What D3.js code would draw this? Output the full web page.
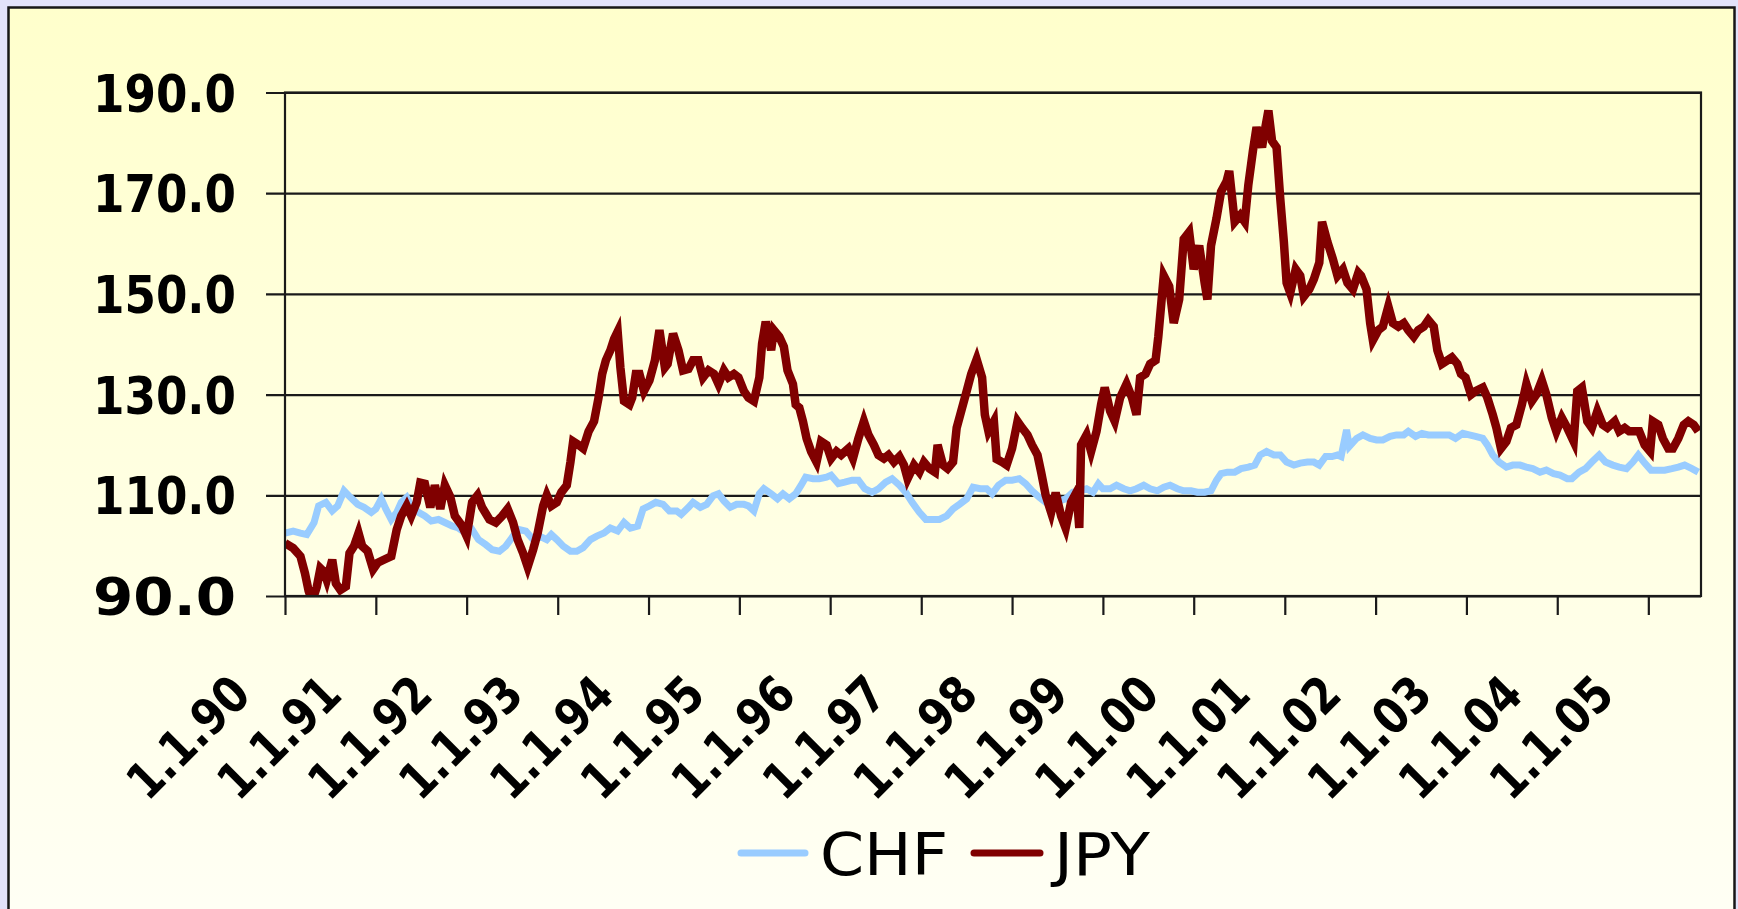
<!DOCTYPE html>
<html><head><meta charset="utf-8">
<script src="https://cdn.jsdelivr.net/npm/d3@7"></script>
<style>html,body{margin:0;padding:0;background:#e2e2fa;overflow:hidden}</style>
</head><body>
<svg id="chart" width="1738" height="909"></svg>
<script>
// ---- data (decimal year, index value) ----
const yTickValues = [90, 110, 130, 150, 170, 190];
const xTickYears = [1990,1991,1992,1993,1994,1995,1996,1997,1998,1999,2000,2001,2002,2003,2004,2005];
const xTickLabels = ["1.1.90","1.1.91","1.1.92","1.1.93","1.1.94","1.1.95","1.1.96","1.1.97","1.1.98","1.1.99","1.1.00","1.1.01","1.1.02","1.1.03","1.1.04","1.1.05"];
const seriesNames = ["CHF", "JPY"];

const chf = [
[1990.00,102.5],[1990.09,102.9],[1990.17,102.5],[1990.24,102.2],[1990.32,104.6],[1990.37,107.9],[1990.45,108.6],[1990.52,106.9],[1990.58,107.9],[1990.65,110.9],[1990.72,109.6],[1990.80,108.2],[1990.87,107.6],[1990.95,106.6],
[1991.00,107.3],[1991.06,109.3],[1991.11,107.3],[1991.17,105.2],[1991.23,106.6],[1991.28,108.6],[1991.34,109.6],[1991.39,107.9],[1991.47,106.6],[1991.54,105.9],[1991.61,104.9],[1991.69,105.2],[1991.76,104.6],[1991.84,103.9],[1991.91,103.5],[1991.99,102.5],
[1992.06,103.2],[1992.13,101.2],[1992.21,100.2],[1992.28,99.2],[1992.36,98.9],[1992.43,99.9],[1992.51,101.9],[1992.58,103.2],[1992.65,102.9],[1992.73,101.2],[1992.80,101.9],[1992.88,101.2],[1992.93,102.2],[1992.99,101.2],
[1993.06,99.9],[1993.14,98.9],[1993.21,98.9],[1993.28,99.6],[1993.36,101.2],[1993.43,101.9],[1993.51,102.5],[1993.58,103.5],[1993.66,102.9],[1993.73,104.6],[1993.80,103.5],[1993.88,103.9],[1993.94,107.3],
[1994.01,107.9],[1994.08,108.6],[1994.16,108.2],[1994.23,106.9],[1994.31,106.9],[1994.36,106.2],[1994.44,107.6],[1994.49,108.6],[1994.57,107.6],[1994.64,108.2],[1994.71,109.9],[1994.77,110.3],[1994.83,108.9],[1994.90,107.6],[1994.97,108.2],
[1995.05,108.2],[1995.10,107.9],[1995.16,106.9],[1995.22,110.3],[1995.27,111.3],[1995.35,110.3],[1995.42,109.3],[1995.48,110.3],[1995.55,109.3],[1995.62,110.3],[1995.68,112.0],[1995.73,113.6],[1995.81,113.3],[1995.88,113.3],[1995.96,113.6],
[1996.01,114.0],[1996.09,112.3],[1996.16,112.6],[1996.24,113.0],[1996.31,113.0],[1996.38,111.3],[1996.46,110.6],[1996.53,111.3],[1996.61,112.6],[1996.68,113.3],[1996.76,112.0],[1996.83,110.6],[1996.90,108.6],[1996.98,106.6],
[1997.05,105.2],[1997.13,105.2],[1997.20,105.2],[1997.28,105.9],[1997.35,107.3],[1997.42,108.2],[1997.50,109.3],[1997.57,111.6],[1997.65,111.3],[1997.72,111.3],[1997.78,110.3],[1997.85,112.0],[1997.93,113.0],
[1998.00,113.0],[1998.08,113.3],[1998.15,112.3],[1998.22,110.9],[1998.30,109.6],[1998.37,108.6],[1998.45,108.6],[1998.52,108.9],[1998.59,109.3],[1998.67,110.6],[1998.74,110.9],[1998.82,111.3],[1998.89,110.6],[1998.95,112.3],
[1999.00,111.3],[1999.08,111.3],[1999.15,112.0],[1999.23,111.3],[1999.30,110.9],[1999.37,111.3],[1999.45,112.0],[1999.52,111.3],[1999.60,110.9],[1999.67,111.6],[1999.74,112.0],[1999.82,111.3],[1999.89,110.9],[1999.97,110.9],
[2000.04,110.6],[2000.12,110.6],[2000.19,110.9],[2000.25,113.0],[2000.30,114.3],[2000.37,114.6],[2000.45,114.6],[2000.52,115.3],[2000.60,115.6],[2000.67,116.0],[2000.73,118.0],[2000.80,118.7],[2000.88,118.0],[2000.95,118.0],
[2001.02,116.6],[2001.10,116.0],[2001.17,116.4],[2001.25,116.6],[2001.32,116.6],[2001.38,116.0],[2001.45,117.7],[2001.52,117.7],[2001.58,118.0],[2001.62,117.7],[2001.68,123.0],[2001.71,119.7],[2001.79,121.3],[2001.86,122.0],[2001.94,121.3],
[2002.01,121.0],[2002.08,121.0],[2002.16,121.7],[2002.23,122.0],[2002.31,122.0],[2002.36,122.7],[2002.44,121.7],[2002.51,122.3],[2002.58,122.0],[2002.66,122.0],[2002.73,122.0],[2002.81,122.0],[2002.88,121.3],[2002.96,122.3],
[2003.03,122.0],[2003.10,121.7],[2003.18,121.3],[2003.23,120.0],[2003.29,118.0],[2003.36,116.6],[2003.44,115.6],[2003.51,116.0],[2003.59,116.0],[2003.66,115.6],[2003.73,115.3],[2003.81,114.6],[2003.88,115.0],[2003.96,114.3],
[2004.03,114.0],[2004.11,113.3],[2004.16,113.3],[2004.24,114.6],[2004.31,115.3],[2004.38,116.6],[2004.46,118.0],[2004.53,116.6],[2004.61,116.0],[2004.68,115.6],[2004.76,115.3],[2004.83,116.6],[2004.89,118.0],[2004.96,116.4],
[2005.03,115.0],[2005.11,115.0],[2005.18,115.0],[2005.26,115.3],[2005.33,115.6],[2005.40,116.0],[2005.48,115.3],[2005.55,114.6]
];

const jpy = [
[1990.00,100.5],[1990.09,99.5],[1990.17,97.9],[1990.22,94.5],[1990.26,91.0],[1990.30,89.0],[1990.35,91.8],[1990.39,95.5],[1990.43,94.8],[1990.46,93.2],[1990.52,97.2],[1990.56,92.5],[1990.61,91.2],[1990.67,91.9],[1990.71,98.5],[1990.76,99.9],[1990.81,102.5],[1990.85,99.9],[1990.91,98.9],[1990.97,95.3],
[1991.02,96.6],[1991.10,97.3],[1991.17,97.9],[1991.23,103.2],[1991.28,105.9],[1991.34,107.9],[1991.39,105.9],[1991.45,108.6],[1991.49,112.5],[1991.54,112.3],[1991.60,107.6],[1991.65,112.0],[1991.71,107.3],[1991.76,112.0],[1991.82,109.7],[1991.87,105.9],[1991.95,103.9],
[1992.00,101.9],[1992.06,108.6],[1992.12,110.0],[1992.17,107.6],[1992.25,105.2],[1992.32,104.6],[1992.39,105.9],[1992.45,107.3],[1992.51,104.6],[1992.56,101.2],[1992.62,98.5],[1992.67,95.8],[1992.73,99.2],[1992.78,102.5],[1992.84,107.9],[1992.88,110.0],[1992.93,107.9],[1992.99,108.6],
[1993.04,110.6],[1993.10,112.0],[1993.14,116.6],[1993.17,120.7],[1993.23,120.0],[1993.28,119.3],[1993.34,122.7],[1993.40,124.7],[1993.45,129.4],[1993.49,134.1],[1993.53,136.8],[1993.58,138.8],[1993.62,141.0],[1993.66,142.5],[1993.69,135.4],[1993.73,128.7],[1993.79,128.0],[1993.82,129.4],[1993.86,134.1],[1993.90,134.1],[1993.95,130.7],
[1994.01,132.8],[1994.07,136.8],[1994.12,142.8],[1994.18,135.4],[1994.21,136.1],[1994.27,142.1],[1994.33,138.8],[1994.38,134.8],[1994.44,135.1],[1994.49,136.8],[1994.55,136.8],[1994.60,133.4],[1994.66,134.8],[1994.72,134.1],[1994.77,132.1],[1994.83,134.8],[1994.88,133.4],[1994.94,134.1],[1994.99,133.4],
[1995.05,130.7],[1995.10,129.4],[1995.16,128.7],[1995.22,133.4],[1995.25,140.1],[1995.29,144.5],[1995.35,138.8],[1995.38,142.8],[1995.44,141.5],[1995.49,139.5],[1995.53,134.8],[1995.59,132.1],[1995.62,128.0],[1995.66,127.4],[1995.70,124.7],[1995.74,121.3],[1995.79,118.7],[1995.85,116.6],[1995.90,120.7],[1995.96,120.0],
[1996.01,117.3],[1996.07,118.7],[1996.12,118.0],[1996.20,119.3],[1996.25,117.3],[1996.31,121.3],[1996.37,124.7],[1996.42,122.0],[1996.48,120.0],[1996.53,118.0],[1996.59,117.3],[1996.64,118.0],[1996.70,116.6],[1996.76,117.7],[1996.81,116.0],[1996.85,113.3],[1996.92,116.0],[1996.98,114.6],
[1997.03,116.6],[1997.09,115.3],[1997.15,114.6],[1997.18,120.0],[1997.24,116.0],[1997.29,115.3],[1997.35,116.6],[1997.39,123.4],[1997.44,126.7],[1997.50,130.7],[1997.55,134.1],[1997.61,137.0],[1997.67,133.4],[1997.70,126.0],[1997.74,122.7],[1997.80,124.7],[1997.83,117.2],[1997.89,116.6],[1997.94,116.0],
[1998.00,119.3],[1998.06,124.7],[1998.11,123.4],[1998.17,122.0],[1998.22,120.0],[1998.28,118.0],[1998.32,114.6],[1998.37,110.0],[1998.43,106.6],[1998.48,110.5],[1998.54,105.9],[1998.59,103.5],[1998.65,108.6],[1998.71,110.6],[1998.74,103.5],[1998.76,120.0],[1998.82,122.0],[1998.87,118.7],[1998.93,122.7],[1998.98,128.0],
[1999.02,131.4],[1999.08,126.7],[1999.13,124.7],[1999.19,129.4],[1999.26,132.1],[1999.32,129.4],[1999.37,126.0],[1999.41,133.4],[1999.47,134.1],[1999.52,136.1],[1999.58,136.8],[1999.61,141.5],[1999.67,153.6],[1999.73,151.5],[1999.78,144.2],[1999.84,148.9],[1999.89,160.9],[1999.95,162.3],
[2000.00,154.9],[2000.06,159.6],[2000.12,152.2],[2000.15,148.9],[2000.19,159.6],[2000.25,165.0],[2000.30,170.3],[2000.36,172.3],[2000.39,174.4],[2000.45,164.3],[2000.51,165.6],[2000.56,164.3],[2000.60,171.7],[2000.65,178.4],[2000.69,183.1],[2000.75,179.1],[2000.78,182.4],[2000.82,186.4],[2000.86,180.4],[2000.91,179.1],[2000.95,169.0],[2000.99,160.3],
[2001.02,152.2],[2001.06,150.2],[2001.12,154.9],[2001.17,153.6],[2001.21,149.5],[2001.27,150.9],[2001.32,152.9],[2001.38,156.2],[2001.41,164.3],[2001.47,160.3],[2001.53,156.9],[2001.58,153.6],[2001.64,154.9],[2001.69,152.2],[2001.75,150.9],[2001.81,154.2],[2001.84,153.6],[2001.90,150.9],[2001.94,144.2],[2001.97,140.8],
[2002.03,142.8],[2002.08,143.5],[2002.14,147.5],[2002.19,144.2],[2002.25,143.5],[2002.31,144.2],[2002.36,142.8],[2002.42,141.5],[2002.47,142.8],[2002.53,143.5],[2002.58,144.8],[2002.64,143.5],[2002.68,138.8],[2002.73,136.1],[2002.79,136.8],[2002.84,137.4],[2002.90,136.1],[2002.94,134.1],[2002.99,133.4],
[2003.05,130.0],[2003.10,130.7],[2003.18,131.4],[2003.23,129.4],[2003.29,126.0],[2003.33,123.4],[2003.38,119.3],[2003.44,120.7],[2003.49,123.4],[2003.55,124.0],[2003.61,128.0],[2003.66,132.1],[2003.72,128.7],[2003.77,130.0],[2003.83,132.8],[2003.88,130.0],[2003.94,125.4],[2003.99,122.7],
[2004.05,125.4],[2004.11,123.4],[2004.18,120.7],[2004.22,130.7],[2004.27,131.4],[2004.33,124.7],[2004.38,123.4],[2004.44,126.7],[2004.50,124.0],[2004.55,123.4],[2004.63,124.7],[2004.68,122.7],[2004.74,123.4],[2004.79,122.7],[2004.85,122.7],[2004.90,122.7],[2004.96,120.0],
[2005.02,118.7],[2005.05,124.7],[2005.11,124.0],[2005.16,121.3],[2005.22,119.3],[2005.27,119.3],[2005.33,121.3],[2005.39,124.0],[2005.44,124.7],[2005.50,124.0],[2005.55,122.7]
];

// ---- helpers ----
function decToDate(t) {
  const yr = Math.floor(t);
  const a = Date.UTC(yr, 0, 1), b = Date.UTC(yr + 1, 0, 1);
  return new Date(a + (t - yr) * (b - a));
}

const W = 1738, H = 909;
const plot = {left: 285, right: 1701, top: 92.5, bottom: 596};
const svg = d3.select("#chart");
const defs = svg.append("defs");

const grad = defs.append("linearGradient").attr("id", "bg").attr("x1", 0).attr("y1", 0).attr("x2", 0).attr("y2", 1);
grad.append("stop").attr("offset", "0%").attr("stop-color", "#ffffcc");
grad.append("stop").attr("offset", "100%").attr("stop-color", "#fffff6");

defs.append("clipPath").attr("id", "plotclip").append("rect")
  .attr("x", plot.left).attr("y", plot.top - 5).attr("width", plot.right - plot.left).attr("height", plot.bottom - plot.top + 5);

// outer lavender background
svg.append("rect").attr("x", 0).attr("y", 0).attr("width", W).attr("height", H).attr("fill", "#e2e2fa");
// chart panel
svg.append("rect").attr("x", 8.5).attr("y", 7.5).attr("width", 1726).attr("height", 940)
  .attr("fill", "url(#bg)").attr("stroke", "#161616").attr("stroke-width", 2.5);

const x = d3.scaleUtc().domain([decToDate(1990), decToDate(2005.58)]).range([plot.left, plot.right]);
const y = d3.scaleLinear().domain([90, 190]).range([plot.bottom, plot.top]);

// gridlines + y ticks (extend left of the axis)
const yAxis = d3.axisLeft(y).tickValues(yTickValues).tickSize(-(plot.right - plot.left)).tickFormat("");
const gy = svg.append("g").attr("transform", `translate(${plot.left},0)`).call(yAxis);
gy.select(".domain").remove();
gy.selectAll(".tick line").attr("stroke", "#1a1a1a").attr("stroke-width", 2.2).attr("x1", -19);

// y labels
svg.append("g").selectAll("text").data(yTickValues).join("text")
  .attr("x", 236).attr("y", d => y(d) + 19)
  .attr("text-anchor", "end")
  .attr("font-family", "'DejaVu Sans Condensed', 'DejaVu Sans', sans-serif")
  .attr("font-weight", "bold").attr("font-size", 52)
  .attr("textLength", 143).attr("lengthAdjust", "spacingAndGlyphs")
  .attr("fill", "#000")
  .text(d => d.toFixed(1));

// x axis ticks
const tickDates = xTickYears.map(decToDate);
const xAxis = d3.axisBottom(x).tickValues(tickDates).tickSize(19).tickFormat("");
const gx = svg.append("g").attr("transform", `translate(0,${plot.bottom})`).call(xAxis);
gx.select(".domain").remove();
gx.selectAll(".tick line").attr("stroke", "#1a1a1a").attr("stroke-width", 2.2);

// x labels rotated -45
svg.append("g").selectAll("text").data(tickDates).join("text")
  .attr("transform", d => `translate(${x(d) - 32},${697}) rotate(-45)`)
  .attr("text-anchor", "end")
  .attr("font-family", "'DejaVu Sans Condensed', 'DejaVu Sans', sans-serif")
  .attr("font-weight", "bold").attr("font-size", 50)
  .attr("textLength", 149).attr("lengthAdjust", "spacingAndGlyphs")
  .attr("fill", "#000")
  .text((d, i) => xTickLabels[i]);

// series lines
const line = d3.line().x(d => x(decToDate(d[0]))).y(d => y(d[1]));
const gl = svg.append("g").attr("clip-path", "url(#plotclip)");
gl.append("path").datum(chf).attr("d", line).attr("fill", "none")
  .attr("stroke", "#99ccff").attr("stroke-width", 7).attr("stroke-linejoin", "miter");
gl.append("path").datum(jpy).attr("d", line).attr("fill", "none")
  .attr("stroke", "#800000").attr("stroke-width", 8.5).attr("stroke-linejoin", "miter");

// plot frame: left axis, bottom axis, right edge
svg.append("rect").attr("x", plot.left).attr("y", plot.top).attr("width", plot.right - plot.left).attr("height", plot.bottom - plot.top)
  .attr("fill", "none").attr("stroke", "#1a1a1a").attr("stroke-width", 2.2);

// legend
const legend = [
  {name: seriesNames[0], color: "#99ccff", x1: 741, x2: 805, tx: 820, tl: 128},
  {name: seriesNames[1], color: "#800000", x1: 974, x2: 1040, tx: 1054, tl: 96}
];
const lg = svg.append("g");
legend.forEach(l => {
  lg.append("line").attr("x1", l.x1).attr("x2", l.x2).attr("y1", 853).attr("y2", 853)
    .attr("stroke", l.color).attr("stroke-width", 7).attr("stroke-linecap", "round");
  lg.append("text").attr("x", l.tx).attr("y", 875)
    .attr("font-family", "'DejaVu Sans', sans-serif").attr("font-size", 58)
    .attr("textLength", l.tl).attr("lengthAdjust", "spacingAndGlyphs")
    .attr("fill", "#000").text(l.name);
});
</script>
</body></html>
